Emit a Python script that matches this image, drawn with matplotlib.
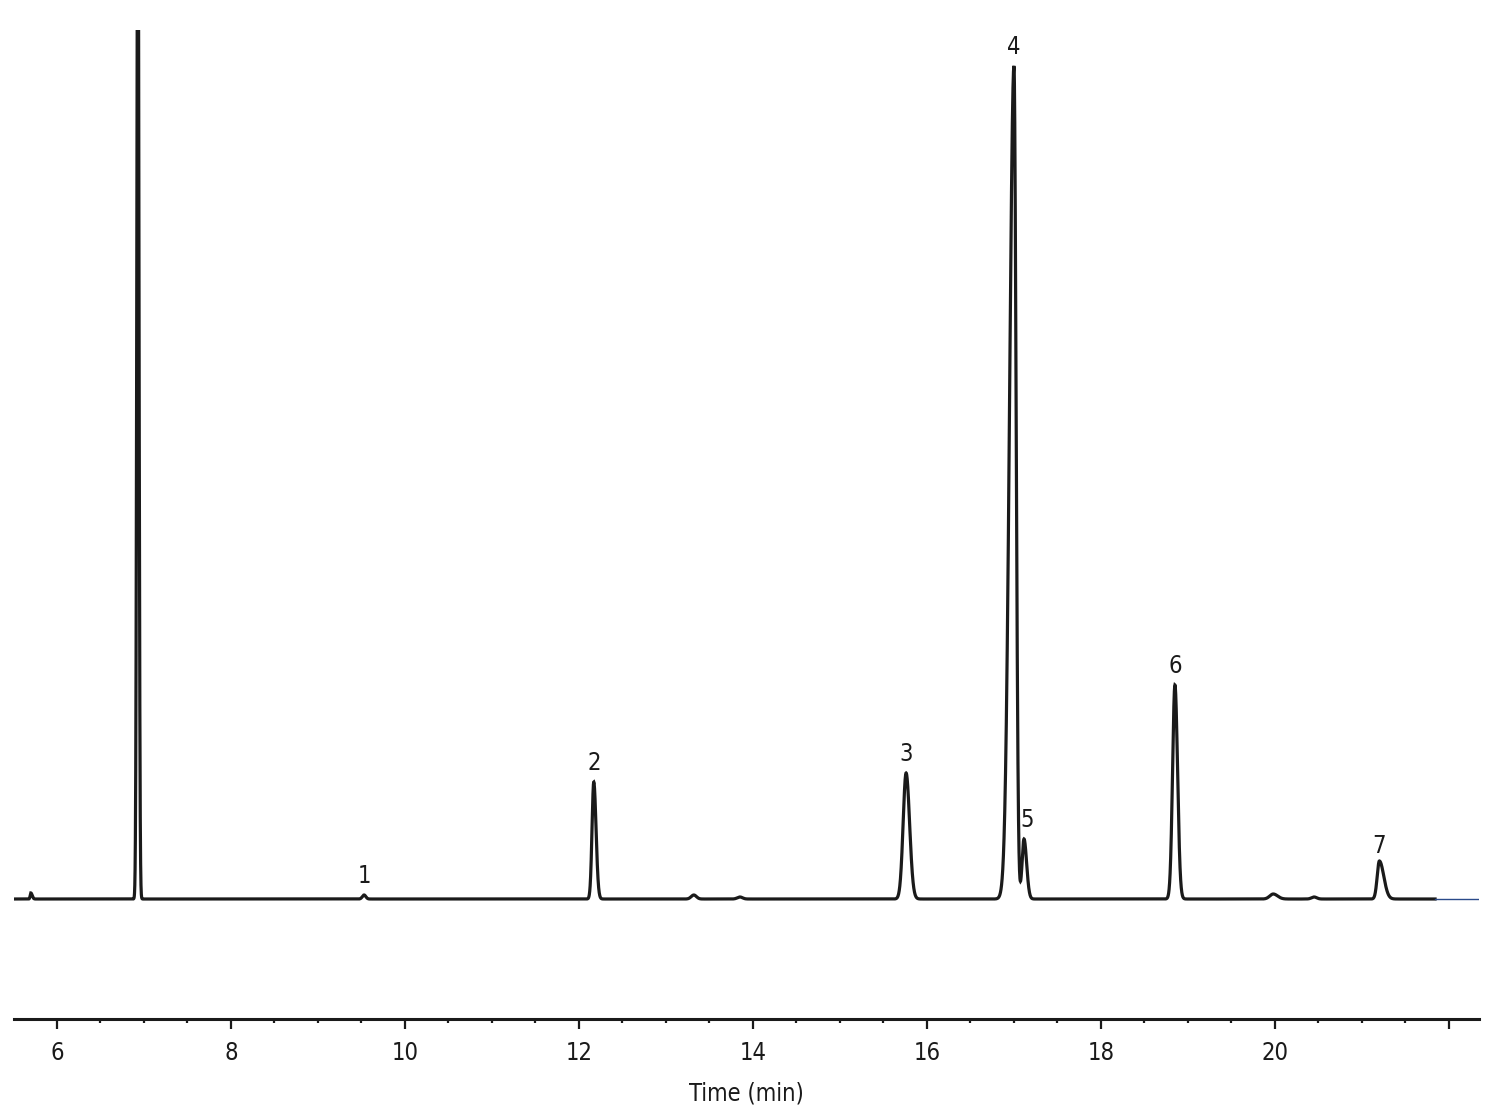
import numpy as np
import matplotlib
matplotlib.use("Agg")
import matplotlib.pyplot as plt

# 피크 테이블: 머무름 시간(min), 높이, 왼쪽/오른쪽 폭(min)
peak_times = [5.70, 6.93, 9.53, 12.17, 13.32, 13.85, 15.76, 17.00, 17.115, 18.85, 19.98, 20.45, 21.20]
peak_heights = [6, 1100, 4, 117, 4, 2, 126, 833, 60, 214, 5, 2, 38]
sigma_left = [0.008, 0.012, 0.02, 0.020, 0.03, 0.03, 0.034, 0.050, 0.022, 0.027, 0.04, 0.03, 0.025]
sigma_right = [0.015, 0.012, 0.02, 0.026, 0.03, 0.03, 0.040, 0.024, 0.030, 0.030, 0.05, 0.03, 0.050]

# 번호 붙은 피크
label_names = ["1", "2", "3", "4", "5", "6", "7"]
label_times = [9.53, 12.17, 15.76, 17.00, 17.115, 18.85, 21.20]
label_heights = [4, 117, 126, 833, 60, 214, 38]

trace_start, trace_end, tail_end = 5.506, 21.84, 22.36

plt.rcParams['font.family'] = ['DejaVu Sans']
plt.rcParams['font.stretch'] = 'condensed'

t = np.linspace(trace_start, trace_end, 20000)
signal = np.zeros_like(t)
for rt, h, sl, sr in zip(peak_times, peak_heights, sigma_left, sigma_right):
    s = np.where(t < rt, sl, sr)
    signal += h * np.exp(-0.5 * ((t - rt) / s) ** 2)

fig = plt.figure(figsize=(14.9, 11.13), dpi=100)
ax = fig.add_axes([14 / 1490, (1113 - 1019) / 1113, 1465 / 1490, 989 / 1113])

ax.plot(t, signal, color='#1a1a1a', linewidth=2.3, solid_joinstyle='miter')
ax.plot([trace_end, tail_end], [0, 0], color='#2a4a8a', linewidth=1.0)

for name, rt, h in zip(label_names, label_times, label_heights):
    dx = 2 if name == "5" else 0
    dy = 11 if name == "7" else 14
    ax.annotate(name, (rt, h), xytext=(dx, dy), textcoords='offset points',
                ha='center', va='center', fontsize=17, color='#1a1a1a')

ax.set_xlim(5.506, 22.345)
ax.set_ylim(-120, 869)

for side in ['top', 'left', 'right']:
    ax.spines[side].set_visible(False)
ax.spines['bottom'].set_linewidth(2.2)
ax.spines['bottom'].set_color('#1a1a1a')
ax.set_yticks([])

ax.set_xticks(np.arange(6, 23, 2))
ax.set_xticklabels([str(v) for v in range(6, 21, 2)] + [""])
ax.set_xticks(np.arange(6.5, 22.3, 0.5), minor=True)
ax.tick_params(axis='x', which='major', length=7, width=1.6, pad=9, labelsize=17, colors='#1a1a1a')
ax.tick_params(axis='x', which='minor', length=3, width=1.6, colors='#1a1a1a')
ax.set_xlabel("Time (min)", fontsize=17, labelpad=12, color='#1a1a1a')

fig.savefig("out.png", dpi=100)
